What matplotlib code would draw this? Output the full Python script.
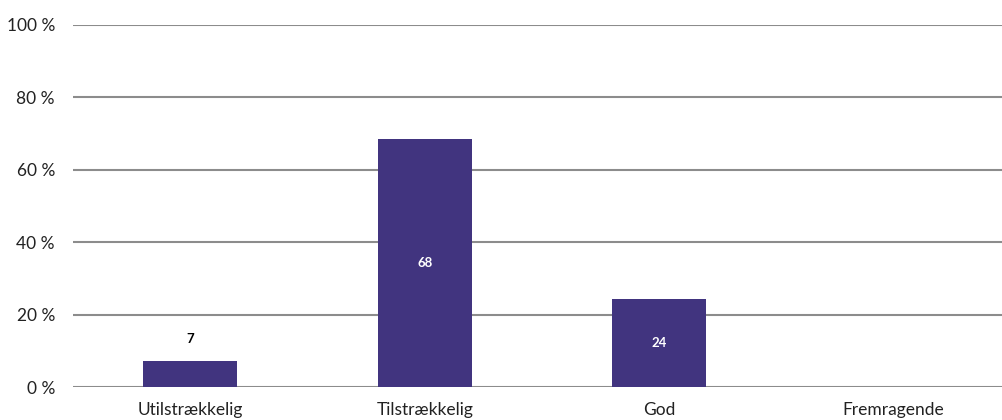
import matplotlib.pyplot as plt
import numpy as np

plt.rcParams['font.family'] = ['Lato', 'DejaVu Sans']

categories = ["Utilstrækkelig", "Tilstrækkelig", "God", "Fremragende"]
values = [7.2, 68.5, 24.3, 0]
labels = ["7", "68", "24", ""]
yticks = [0, 20, 40, 60, 80, 100]

bar_color = "#41347f"

fig = plt.figure(figsize=(10.02, 4.2), dpi=100)
ax = fig.add_axes([73 / 1002, 1 - 387 / 420, 938 / 1002, (387 - 25) / 420])

x = np.arange(len(categories))
bars = ax.bar(x, values, width=0.4, color=bar_color, zorder=3)

# tall bars get the value inside in white, short ones above in black
for b, v, lab in zip(bars, values, labels):
    if not lab:
        continue
    cx = b.get_x() + b.get_width() / 2
    if v < 12:
        ax.text(cx, v + 6, lab, ha='center', va='center', fontsize=9.5,
                fontweight='bold', color='black', zorder=4)
    else:
        ax.text(cx, v / 2, lab, ha='center', va='center', fontsize=9.5,
                fontweight='bold', color='white', zorder=4)

ax.set_xlim(-0.5, len(categories) - 0.5)
ax.set_ylim(0, 100)
ax.set_yticks(yticks)
ax.set_yticklabels([f"{t} %" for t in yticks])
ax.set_xticks(x)
ax.set_xticklabels(categories)
ax.yaxis.grid(True, color='#8c8c8c', linewidth=1.5, zorder=0)
ax.tick_params(axis='both', length=0, labelsize=12.5, colors='#222222')
ax.tick_params(axis='y', pad=13)
ax.tick_params(axis='x', pad=11)
for s in ax.spines.values():
    s.set_visible(False)

plt.savefig("out.png", dpi=100)
